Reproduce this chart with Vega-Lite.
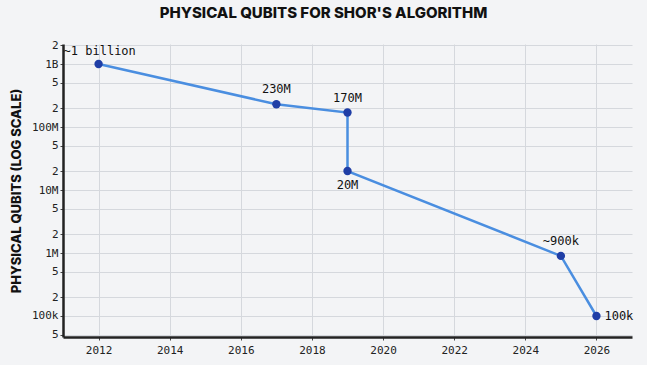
{
  "$schema": "https://vega.github.io/schema/vega-lite/v6.json",
  "autosize": "none",
  "width": 569,
  "height": 293,
  "padding": {"left": 63, "top": 44, "right": 15, "bottom": 28},
  "background": "#f3f4f6",
  "title": {
    "text": "PHYSICAL QUBITS FOR SHOR'S ALGORITHM",
    "font": "Inter",
    "fontSize": 15,
    "fontWeight": 800,
    "color": "#111111",
    "anchor": "middle",
    "dx": -24,
    "offset": 18
  },
  "config": {
    "view": {"stroke": null},
    "axis": {
      "labelFont": "DejaVu Sans Mono",
      "labelFontSize": 11,
      "labelColor": "#222222",
      "gridColor": "#d5d8dd",
      "gridWidth": 1,
      "domainColor": "#222222",
      "domainWidth": 2.5,
      "tickColor": "#444444",
      "tickSize": 3,
      "titleFont": "Inter",
      "titleFontWeight": 800,
      "titleFontSize": 13,
      "titleColor": "#111111"
    }
  },
  "data": {
    "values": [
      {"year": 2012, "qubits": 1000000000, "label": "~1 billion"},
      {"year": 2017, "qubits": 230000000, "label": "230M"},
      {"year": 2019, "qubits": 170000000, "label": "170M"},
      {"year": 2019, "qubits": 20000000, "label": "20M"},
      {"year": 2025, "qubits": 900000, "label": "~900k"},
      {"year": 2026, "qubits": 100000, "label": "100k"}
    ]
  },
  "encoding": {
    "x": {
      "field": "year",
      "type": "quantitative",
      "scale": {"domain": [2011, 2027], "nice": false, "zero": false},
      "axis": {
        "title": null,
        "values": [2012, 2014, 2016, 2018, 2020, 2022, 2024, 2026],
        "format": "d",
        "labelPadding": 4
      }
    },
    "y": {
      "field": "qubits",
      "type": "quantitative",
      "scale": {"type": "log", "domain": [46400, 2080000000], "nice": false},
      "axis": {
        "title": "PHYSICAL QUBITS (LOG SCALE)",
        "titlePadding": 8,
        "values": [50000, 100000, 200000, 500000, 1000000, 2000000, 5000000, 10000000, 20000000, 50000000, 100000000, 200000000, 500000000, 1000000000, 2000000000],
        "labelExpr": "datum.value==1e5?'100k':datum.value==1e6?'1M':datum.value==1e7?'10M':datum.value==1e8?'100M':datum.value==1e9?'1B':format(datum.value/pow(10,floor(log(datum.value)/LN10+1e-9)),'d')",
        "labelPadding": 2
      }
    }
  },
  "layer": [
    {
      "mark": {"type": "line", "color": "#4a8ee0", "strokeWidth": 2.5},
      "encoding": {"order": {"value": null}}
    },
    {
      "mark": {"type": "point", "filled": true, "color": "#1f3ea6", "opacity": 1, "size": 70}
    },
    {
      "transform": [{"filter": "datum.label=='230M' || datum.label=='170M' || datum.label=='~900k'"}],
      "mark": {"type": "text", "font": "DejaVu Sans Mono", "fontSize": 12, "color": "#111111", "baseline": "middle", "dy": -15},
      "encoding": {"text": {"field": "label"}}
    },
    {
      "transform": [{"filter": "datum.label=='20M'"}],
      "mark": {"type": "text", "font": "DejaVu Sans Mono", "fontSize": 12, "color": "#111111", "baseline": "middle", "dy": 14},
      "encoding": {"text": {"field": "label"}}
    },
    {
      "transform": [{"filter": "datum.label=='~1 billion'"}],
      "mark": {"type": "text", "font": "DejaVu Sans Mono", "fontSize": 12, "color": "#111111", "baseline": "middle", "align": "left", "dx": -35, "dy": -13},
      "encoding": {"text": {"field": "label"}}
    },
    {
      "transform": [{"filter": "datum.label=='100k'"}],
      "mark": {"type": "text", "font": "DejaVu Sans Mono", "fontSize": 12, "color": "#111111", "baseline": "middle", "align": "left", "dx": 8},
      "encoding": {"text": {"field": "label"}}
    }
  ]
}
